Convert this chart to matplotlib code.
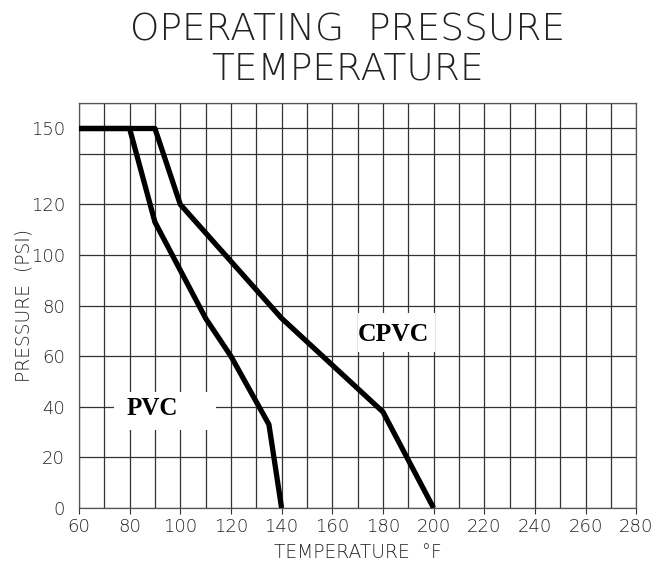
"""Operating pressure vs temperature for PVC and CPVC"""

import matplotlib
matplotlib.use('Agg')
import matplotlib.pyplot as plt
from matplotlib.patches import Rectangle

# data
pvc_temp = [60, 80, 90, 110, 120, 135, 140]
pvc_psi = [150, 150, 113, 75, 60, 33, 0]
cpvc_temp = [60, 90, 100, 140, 180, 200]
cpvc_psi = [150, 150, 120, 75, 38, 0]

x_ticks = list(range(60, 281, 20))
x_grid = list(range(60, 281, 10))
y_ticks = [0, 20, 40, 60, 80, 100, 120, 150]
y_grid = [0, 20, 40, 60, 80, 100, 120, 140, 150, 160]

fig = plt.figure(figsize=(6.69, 5.63), dpi=100)
ax = fig.add_axes([0.118, 0.0977, 0.833, 0.719])

ax.set_xlim(60, 280)
ax.set_ylim(0, 160)

for x in x_grid:
    ax.axvline(x, color='#333333', lw=0.9, zorder=1)
for y in y_grid:
    ax.axhline(y, color='#333333', lw=0.9, zorder=1)

ax.plot(pvc_temp, pvc_psi, color='black', lw=3.8, solid_capstyle='butt', zorder=3)
ax.plot(cpvc_temp, cpvc_psi, color='black', lw=3.8, solid_capstyle='butt', zorder=3)

# white label boxes that break the grid
ax.add_patch(Rectangle((74, 31), 40, 15, facecolor='white', edgecolor='none', zorder=2))
ax.add_patch(Rectangle((170, 61.5), 30.5, 15.5, facecolor='white', edgecolor='none', zorder=2))
ax.text(89, 39.5, 'PVC', family='Liberation Serif', weight='bold', fontsize=18,
        ha='center', va='center', zorder=4)
ax.text(184, 68.5, 'CPVC', family='Liberation Serif', weight='bold', fontsize=18.5,
        ha='center', va='center', zorder=4)

ax.set_xticks(x_ticks)
ax.set_yticks(y_ticks)
ax.tick_params(axis='both', length=4, width=0.8, color='#333333', labelsize=13,
               labelcolor='#222222')
ax.tick_params(axis='y', length=0, pad=10)
for lab in ax.get_xticklabels() + ax.get_yticklabels():
    lab.set_fontweight('light')
for s in ax.spines.values():
    s.set_color('#555555')
    s.set_linewidth(0.9)

ax.set_xlabel('TEMPERATURE  °F', fontsize=13.5, weight='light', color='#222222', labelpad=5)
ax.set_ylabel('PRESSURE  (PSI)', fontsize=13.5, weight='light', color='#222222')
ax.yaxis.set_label_coords(-0.082, 0.5)

fig.text(0.519, 0.946, 'OPERATING  PRESSURE', ha='center', va='center',
         fontsize=27, weight='light', color='#222222')
fig.text(0.519, 0.877, 'TEMPERATURE', ha='center', va='center',
         fontsize=27, weight='light', color='#222222')

fig.savefig('out.png', dpi=100)
